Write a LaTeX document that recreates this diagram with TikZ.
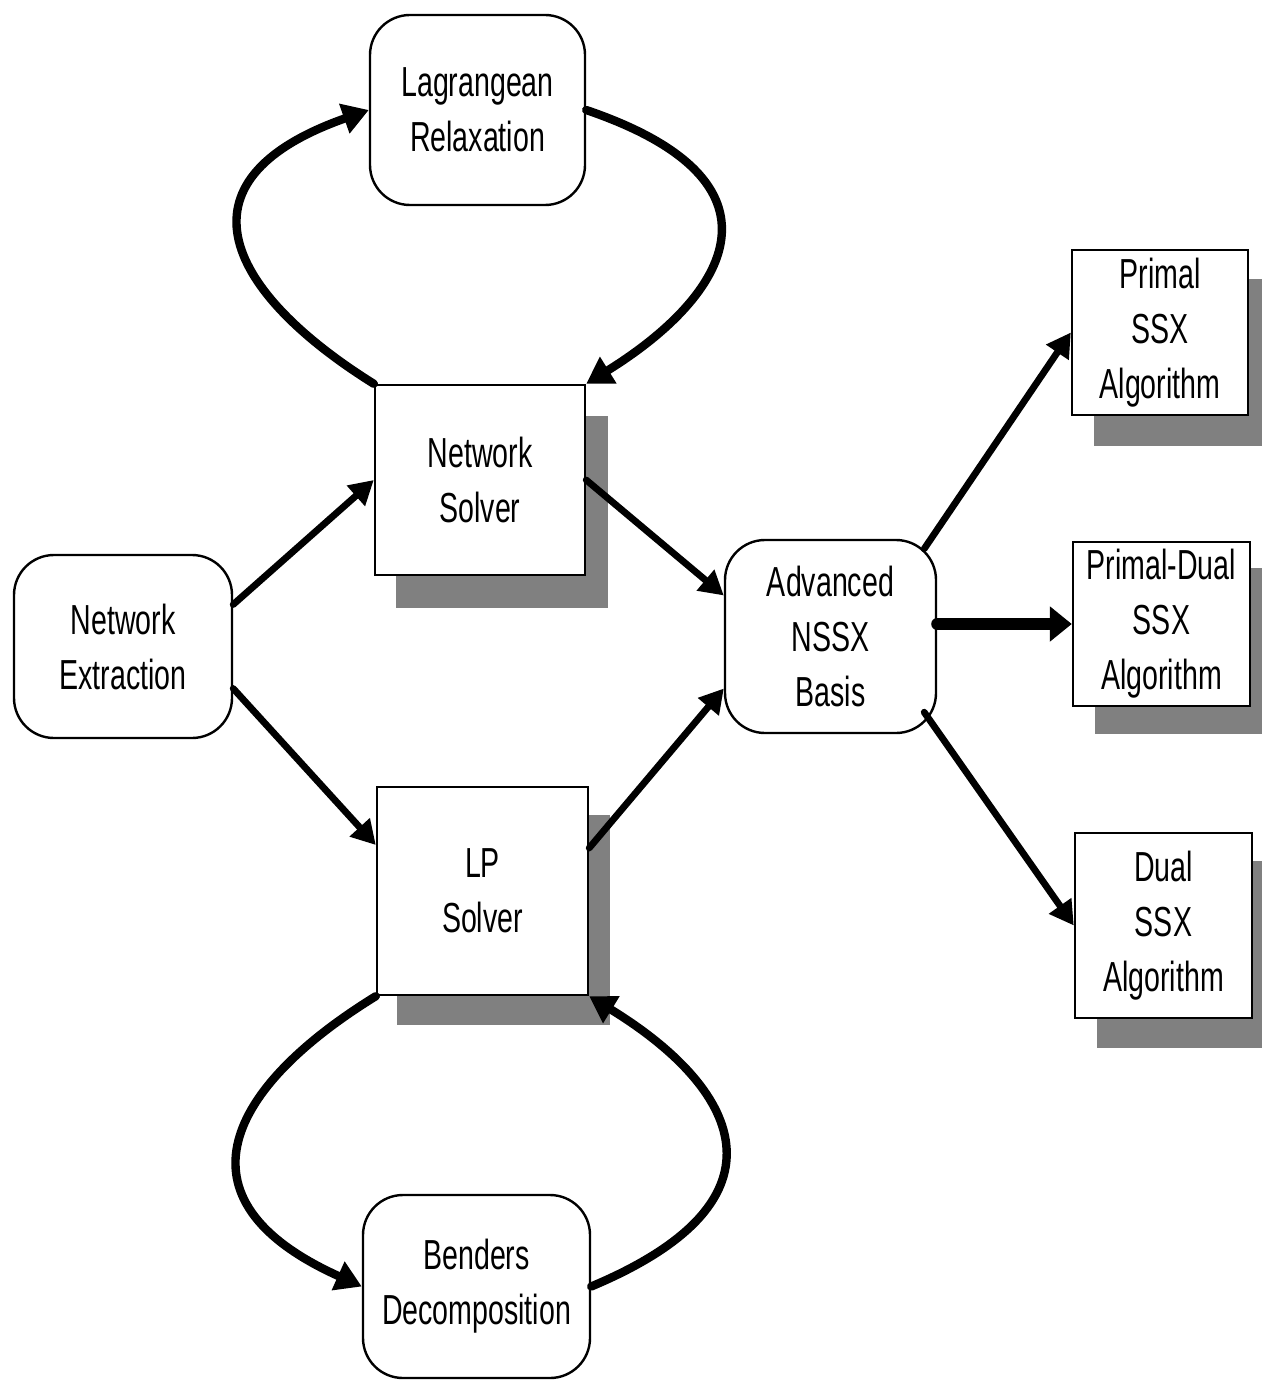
\documentclass[tikz,border=0pt]{standalone}
\usepackage{fontspec}
\setmainfont{Liberation Sans}[FakeStretch=0.68]
\usetikzlibrary{arrows.meta,calc,backgrounds}
\begin{document}
\begin{tikzpicture}[x=0.5pt,y=-0.5pt,
  box/.style={draw, line width=1.2pt, fill=white, align=center, font=\fontsize{21pt}{27.5pt}\selectfont, inner sep=0pt},
  rbox/.style={box, rounded corners=20pt},
  sbox/.style={box},
  shadefill/.style={fill=black!50},
  link/.style={line width=3.4pt, line cap=round, -{Triangle[length=12pt,width=13pt]}},
  looparrow/.style={line width=4.2pt, line cap=round, -{Triangle[length=13pt,width=15pt]}},
  bigarrow/.style={line width=6pt, line cap=round, -{Triangle[length=11pt,width=17pt]}},
]
\useasboundingbox (0,0) rectangle (1262,1380);

\node[rbox, minimum width=107.5pt, minimum height=95pt] (lag) at (477.5,110) {Lagrangean\\Relaxation};
\node[sbox, minimum width=105pt, minimum height=95pt] (ns) at (480,480) {Network\\Solver};
\node[rbox, minimum width=109pt, minimum height=91.5pt] (ne) at (123,646.5) {Network\\Extraction};
\node[sbox, minimum width=105.5pt, minimum height=104pt] (lp) at (482.5,891) {LP\\Solver};
\node[rbox, minimum width=105.5pt, minimum height=96.5pt] (adv) at (830.5,636.5) {Advanced\\NSSX\\Basis};
\node[sbox, minimum width=88pt, minimum height=82.5pt] (pr) at (1160,332.5) {Primal\\SSX\\Algorithm};
\node[sbox, minimum width=88.5pt, minimum height=82pt] (pd) at (1161.5,624) {Primal-Dual\\SSX\\Algorithm};
\node[sbox, minimum width=88.5pt, minimum height=92.5pt] (du) at (1163.5,925.5) {Dual\\SSX\\Algorithm};
\node[rbox, minimum width=113.5pt, minimum height=91.5pt] (ben) at (476.5,1286.5) {Benders\\Decomposition};

\begin{scope}[on background layer]
\foreach \n/\dx/\dy in {ns/22/32, lp/21/29, pr/23/30, pd/23/27, du/23/29}
  \fill[shadefill] ($(\n.south west)+(\dx,\dy)$) rectangle ($(\n.north east)+(\dx,\dy)$);
\end{scope}

\draw[looparrow] (ns.north west) .. controls (230,294) and (167,181) .. (lag.west);
\draw[looparrow] (lag.east) .. controls (795,181) and (731,294) .. (ns.north east);
\draw[looparrow] (lp.south west) .. controls (230,1086) and (167,1199) .. (ben.west);
\draw[looparrow] (ben.east) .. controls (800,1199) and (736,1086) .. (lp.south east);

\draw[link] ($(ne.east)+(0,-42)$) -- (ns.west);
\draw[link] ($(ne.east)+(0,42)$) -- ($(lp.west)+(0,-46)$);
\draw[link] (ns.east) -- ($(adv.west)+(0,-41)$);
\draw[link] ($(lp.east)+(0,-43)$) -- ($(adv.west)+(0,52)$);
\draw[link] ($(adv.north east)+(-13,10)$) -- (pr.west);
\draw[bigarrow] (adv.east |- pd.west) -- (pd.west);
\draw[link] ($(adv.south east)+(-13,-22)$) -- (du.west);
\end{tikzpicture}
\end{document}
